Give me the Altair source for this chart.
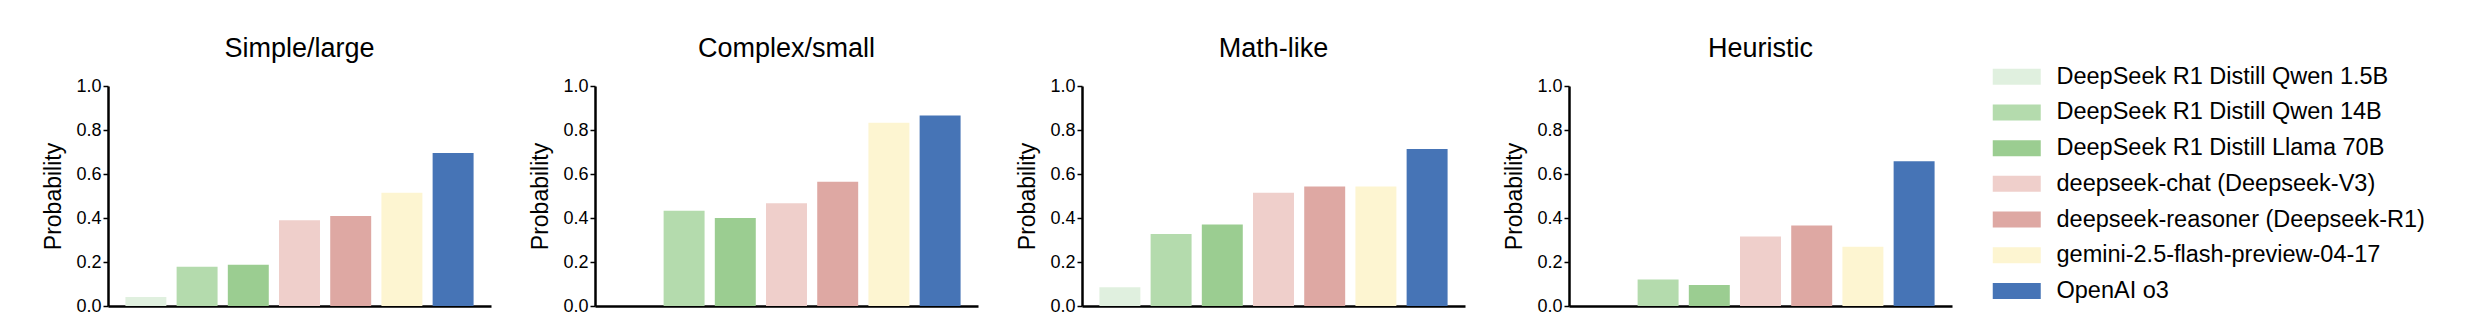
import altair as alt
import pandas as pd

models = [
    "DeepSeek R1 Distill Qwen 1.5B",
    "DeepSeek R1 Distill Qwen 14B",
    "DeepSeek R1 Distill Llama 70B",
    "deepseek-chat (Deepseek-V3)",
    "deepseek-reasoner (Deepseek-R1)",
    "gemini-2.5-flash-preview-04-17",
    "OpenAI o3",
]
colors = ["#e0f0df", "#b4dbad", "#9bcd91", "#efcfcb", "#dea8a3", "#fdf5d1", "#4674b6"]

panels = ["Simple/large", "Complex/small", "Math-like", "Heuristic"]
simple_large = [0.041, 0.178, 0.188, 0.390, 0.409, 0.515, 0.695]
complex_small = [0.0, 0.433, 0.400, 0.467, 0.565, 0.833, 0.866]
math_like = [0.085, 0.327, 0.371, 0.515, 0.543, 0.543, 0.714]
heuristic = [0.0, 0.120, 0.096, 0.316, 0.366, 0.269, 0.658]
y_ticks = [0.0, 0.2, 0.4, 0.6, 0.8, 1.0]

series = [simple_large, complex_small, math_like, heuristic]
rows = []
for p, vals in zip(panels, series):
    for m, v in zip(models, vals):
        rows.append({"panel": p, "model": m, "value": v})
df = pd.DataFrame(rows)

FONT = "Liberation Sans"
shape = "M-3,-1H3V1H-3Z"


def panel_chart(name):
    return (
        alt.Chart(df[df.panel == name])
        .mark_bar()
        .encode(
            x=alt.X(
                "model:N",
                sort=models,
                scale=alt.Scale(paddingInner=0.2, paddingOuter=0.34),
                axis=alt.Axis(labels=False, ticks=False, title=None, domainColor="black", domainWidth=2.5),
            ),
            y=alt.Y(
                "value:Q",
                scale=alt.Scale(domain=[0, 1], nice=False),
                axis=alt.Axis(
                    values=y_ticks,
                    format=".1f",
                    title="Probability",
                    grid=False,
                    domainColor="black",
                    domainWidth=2.5,
                    tickColor="black",
                    tickWidth=1.5,
                    tickSize=5,
                    labelFontSize=18,
                    labelPadding=2,
                    labelColor="black",
                    titleFontSize=23,
                    titleFontWeight="normal",
                    titleColor="black",
                    titlePadding=10,
                ),
            ),
            color=alt.Color(
                "model:N",
                sort=models,
                scale=alt.Scale(domain=models, range=colors),
                legend=alt.Legend(
                    title=None,
                    orient="none",
                    legendX=1897,
                    legendY=-21,
                    symbolType=shape,
                    symbolSize=256,
                    symbolStrokeWidth=0,
                    labelFontSize=23.5,
                    labelColor="black",
                    labelOffset=28,
                    rowPadding=10.7,
                    labelLimit=600,
                ),
            ),
        )
        .properties(
            width=383,
            height=220,
            title=alt.TitleParams(name, fontSize=27, fontWeight="normal", color="black", offset=14),
        )
    )


chart = (
    alt.hconcat(*[panel_chart(p) for p in panels], spacing=38)
    .properties(padding={"left": 34, "top": 27, "right": 5, "bottom": 5})
    .configure(font=FONT)
    .configure_view(strokeWidth=0, stroke=None)
)

chart.save("out.html", embed_options={"renderer": "svg", "actions": False})
